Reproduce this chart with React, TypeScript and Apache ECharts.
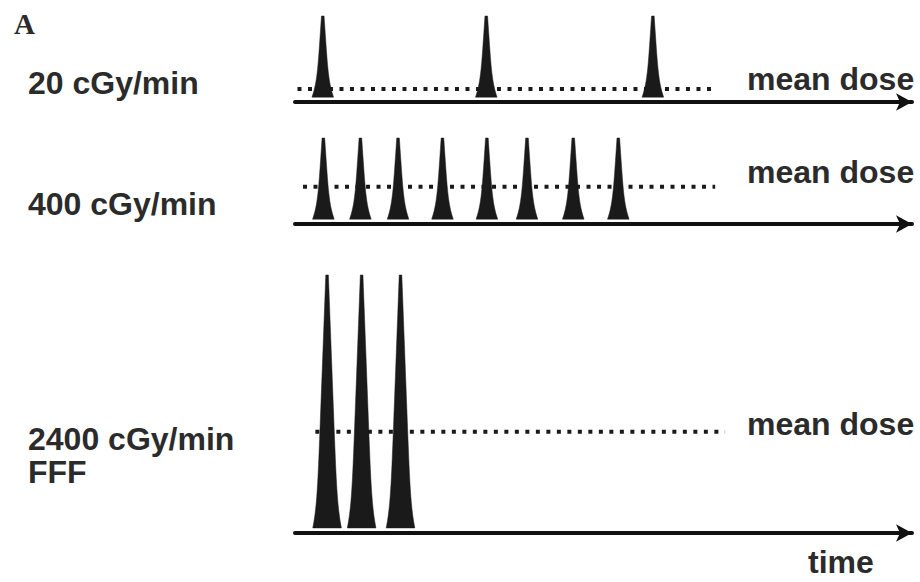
import React, { useEffect, useRef } from "react";
import * as echarts from "echarts";

// ---- data (time in arbitrary units, dose rate in relative units) ----
const panelLabel = "A";
const rowLabels = ["20 cGy/min", "400 cGy/min", "2400 cGy/min\nFFF"];
const meanDoseLabel = "mean dose";
const timeLabel = "time";

const pulseTimes20 = [4.5, 31.0, 58.0];
const pulseTimes400 = [4.6, 10.6, 16.7, 23.9, 31.1, 37.6, 45.1, 52.4];
const pulseTimesFFF = [5.2, 10.8, 17.1];
const pulseHeights = [1, 1, 3];

const meanDose = [0.1, 0.4, 1.14];
const meanDoseSpan20 = [-1.3, 67.8];
const meanDoseSpan400 = [1.3, 68.1];
const meanDoseSpanFFF = [3.3, 69.7];

const timeRange = [0, 100];
const doseFloor = -0.06;

// ---- layout / style ----
const gridTops = [16, 138, 275];
const gridHeights = [86, 86, 258];
const pulseShapes = [
  { tip: 1.3, lin: 5.5, flare: 4, p: 6 },
  { tip: 1.3, lin: 5.5, flare: 4, p: 6 },
  { tip: 1.3, lin: 9.5, flare: 3.5, p: 12 },
];
const INK = "#1a1a1a";
const TEXT = "#2b2b2b";
const SANS = "'Liberation Sans', Arial, Helvetica, sans-serif";

export default function App() {
  const ref = useRef<HTMLDivElement>(null);

  useEffect(() => {
    if (!ref.current) return;
    const chart = echarts.init(ref.current, undefined, { renderer: "svg" });

    const pulseSets = [pulseTimes20, pulseTimes400, pulseTimesFFF];
    const spans = [meanDoseSpan20, meanDoseSpan400, meanDoseSpanFFF];

    const grids = gridTops.map((top, i) => ({
      left: 295,
      right: 8,
      top,
      height: gridHeights[i],
      containLabel: false,
    }));

    const xAxes = gridTops.map((_, i) => ({
      type: "value",
      gridIndex: i,
      min: timeRange[0],
      max: timeRange[1],
      axisLine: {
        show: true,
        onZero: false,
        symbol: ["none", "arrow"],
        symbolSize: [13, 16],
        lineStyle: { color: "#111", width: 4 },
      },
      axisTick: { show: false },
      axisLabel: { show: false },
      splitLine: { show: false },
    }));

    const yAxes = gridTops.map((_, i) => ({
      type: "value",
      gridIndex: i,
      min: doseFloor,
      max: pulseHeights[i],
      show: false,
    }));

    const series: any[] = [];
    pulseSets.forEach((times, i) => {
      series.push({
        type: "line",
        xAxisIndex: i,
        yAxisIndex: i,
        data: [
          [spans[i][0], meanDose[i]],
          [spans[i][1], meanDose[i]],
        ],
        symbol: "none",
        clip: false,
        silent: true,
        lineStyle: { color: INK, width: 4, type: [4, 6.5], cap: "butt" },
        z: 2,
      });
      const shape = pulseShapes[i];
      series.push({
        type: "custom",
        xAxisIndex: i,
        yAxisIndex: i,
        data: times.map((t) => [t, pulseHeights[i]]),
        encode: { x: 0, y: 1 },
        clip: false,
        silent: true,
        z: 3,
        renderItem: (_params: any, api: any) => {
          const t = api.value(0);
          const h = api.value(1);
          const base = api.coord([t, 0]);
          const top = api.coord([t, h]);
          const N = 40;
          const left: number[][] = [];
          const right: number[][] = [];
          for (let k = 0; k <= N; k++) {
            const u = k / N;
            const y = base[1] + (top[1] - base[1]) * u;
            const hw =
              shape.tip + shape.lin * (1 - u) + shape.flare * Math.pow(1 - u, shape.p);
            left.push([base[0] - hw, y]);
            right.push([base[0] + hw, y]);
          }
          const pts = left.concat(right.reverse());
          return {
            type: "polygon",
            shape: { points: pts },
            style: { fill: INK, stroke: INK, lineWidth: 0.5 },
          };
        },
      });
    });

    const textStyle = (extra: any) => ({
      fontFamily: SANS,
      fontWeight: "bold",
      fontSize: 32,
      fill: TEXT,
      verticalAlign: "middle",
      align: "left",
      ...extra,
    });

    const graphic: any[] = [
      {
        type: "text",
        left: 14,
        top: 9,
        style: {
          text: panelLabel,
          fontFamily: "'Liberation Serif', 'Times New Roman', serif",
          fontWeight: "bold",
          fontSize: 29,
          fill: TEXT,
        },
      },
      { type: "text", x: 28, y: 83, style: textStyle({ text: rowLabels[0] }) },
      { type: "text", x: 28, y: 204, style: textStyle({ text: rowLabels[1] }) },
      {
        type: "text",
        x: 28,
        y: 455,
        style: textStyle({ text: rowLabels[2], lineHeight: 33 }),
      },
      { type: "text", x: 747, y: 79, style: textStyle({ text: meanDoseLabel }) },
      { type: "text", x: 747, y: 172, style: textStyle({ text: meanDoseLabel }) },
      { type: "text", x: 747, y: 424, style: textStyle({ text: meanDoseLabel }) },
      { type: "text", x: 808, y: 562, style: textStyle({ text: timeLabel }) },
    ];

    chart.setOption({
      animation: false,
      backgroundColor: "#ffffff",
      grid: grids,
      xAxis: xAxes,
      yAxis: yAxes,
      series,
      graphic,
    });

    return () => chart.dispose();
  }, []);

  return (
    <div
      ref={ref}
      style={{
        position: "absolute",
        left: 0,
        top: 0,
        width: 920,
        height: 582,
        background: "#fff",
      }}
    />
  );
}
